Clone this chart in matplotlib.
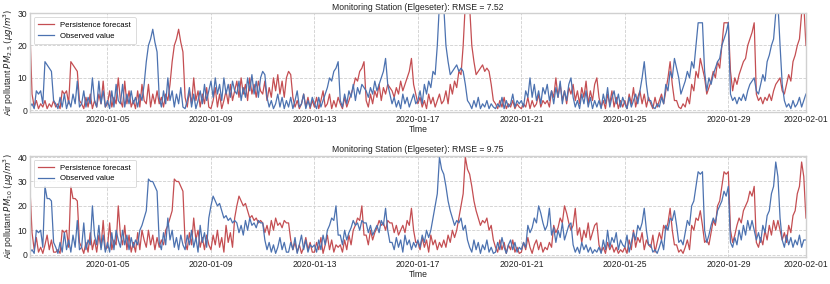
import numpy as np
import pandas as pd
import matplotlib
matplotlib.use("Agg")
import matplotlib.pyplot as plt
import matplotlib.dates as mdates

# Observed concentrations every 2 hours, 2020-01-01 00h .. 2020-02-01 00h
pm25_obs = [
    25, 5, 1, 3, 0.5, 2, 1, 3, 0.5, 2, 1, 3,          # 01-01
    1, 2, 0.5, 6, 5, 6, 2, 15, 14, 13, 12, 3,         # 01-02
    2, 0.5, 4, 1, 5, 0.5, 3, 1, 5, 2, 9, 1,          # 01-03
    2, 6, 1, 4, 2, 10, 3, 1, 9, 2, 6, 1,             # 01-04
    3, 0.5, 6, 1, 8, 3, 2, 8, 1, 5, 2, 6,            # 01-05
    2, 4, 1, 5, 3, 8, 15, 20, 22, 25, 21, 18,        # 01-06
    4, 1, 6, 2, 10, 3, 6, 1, 5, 2, 7, 1,             # 01-07
    0.5, 3, 7, 1, 5, 0.5, 3, 6, 2, 8, 3, 6,          # 01-08
    9, 4, 10, 5, 8, 3, 10, 5, 8, 4, 9, 6,            # 01-09
    5, 9, 3, 7, 4, 10, 6, 11, 5, 9, 4, 10,           # 01-10
    12, 11, 4, 1, 3, 0.5, 2, 5, 1, 4, 0.5, 3,        # 01-11
    1, 4, 0.5, 3, 6, 1, 2, 5, 0.5, 3, 1, 4,          # 01-12
    2, 0.5, 4, 1, 3, 5, 7, 10, 9, 12, 13, 15,        # 01-13
    3, 1, 5, 2, 6, 4, 8, 3, 7, 5, 8, 7,              # 01-14
    6, 4, 7, 5, 9, 6, 8, 10, 12, 16, 8, 5,           # 01-15
    2, 4, 1, 3, 0.5, 5, 2, 4, 1, 3, 5, 2,            # 01-16
    3, 6, 2, 8, 5, 9, 7, 12, 11, 20, 33, 34,         # 01-17
    32, 20, 15, 11, 12, 13, 14, 12, 13, 12, 8, 3,    # 01-18
    2, 0.5, 3, 1, 4, 0.5, 2, 1, 3, 0.5, 2, 1,        # 01-19
    0.5, 2, 1, 4, 0.5, 3, 1, 2, 5, 1, 3, 2,          # 01-20
    3, 1, 6, 4, 10, 4, 8, 3, 6, 2, 7, 5,             # 01-21
    8, 3, 6, 2, 7, 4, 9, 2, 6, 3, 8, 10,             # 01-22
    4, 1, 3, 0.5, 5, 2, 6, 1, 4, 0.5, 3, 1,          # 01-23
    3, 0.5, 5, 2, 7, 1, 4, 6, 2, 5, 1, 4,            # 01-24
    2, 0.5, 4, 1, 3, 5, 2, 6, 10, 15, 8, 3,          # 01-25
    3, 1, 0.5, 2, 1, 4, 2, 8, 6, 12, 10, 16,         # 01-26
    13, 10, 5, 7, 9, 12, 10, 15, 13, 20, 27, 27,     # 01-27
    27, 12, 6, 10, 8, 11, 13, 15, 16, 20, 22, 24,    # 01-28
    27, 5, 3, 4, 2, 4, 3, 5, 3, 6, 8, 9,             # 01-29
    10, 6, 5, 8, 11, 9, 15, 17, 20, 22, 30, 33,      # 01-30
    20, 8, 3, 1, 2, 0.5, 3, 1, 2, 4, 1, 3,           # 01-31
    5,                                               # 02-01 00h
]

pm10_obs = [
    28, 9, 2, 7, 1, 3, 0.5, 4, 8, 2, 6, 1,           # 01-01
    1, 2, 0.5, 10, 9, 10, 3, 28, 23, 23, 22, 5,      # 01-02
    3, 0.5, 5, 1, 9, 2, 6, 1, 8, 3, 14, 2,           # 01-03
    3, 13, 2, 6, 4, 20, 8, 4, 12, 2, 8, 1,           # 01-04
    5, 1, 9, 2, 10, 6, 3, 10, 4, 8, 2, 7,            # 01-05
    3, 6, 4, 10, 12, 15, 18, 31, 30, 30, 28, 26,     # 01-06
    5, 2, 9, 4, 15, 6, 10, 3, 7, 2, 8, 4,            # 01-07
    2, 8, 4, 10, 3, 7, 1, 12, 5, 9, 3, 15,           # 01-08
    20, 24, 22, 20, 21, 18, 15, 16, 14, 15, 13, 14,  # 01-09
    13, 9, 12, 8, 14, 10, 15, 12, 13, 11, 14, 13,    # 01-10
    13, 6, 2, 5, 1, 4, 0.5, 3, 7, 2, 5, 1,           # 01-11
    1, 5, 2, 7, 0.5, 4, 8, 2, 6, 1, 4, 3,            # 01-12
    4, 1, 6, 2, 8, 4, 10, 12, 15, 14, 20, 8,         # 01-13
    8, 4, 10, 6, 9, 11, 14, 12, 13, 10, 14, 13,      # 01-14
    13, 9, 12, 8, 10, 12, 9, 14, 12, 19, 10, 5,      # 01-15
    5, 2, 7, 3, 6, 1, 8, 4, 6, 2, 5, 3,              # 01-16
    6, 3, 8, 5, 10, 7, 10, 15, 20, 25, 40, 35,       # 01-17
    33, 28, 22, 18, 15, 12, 14, 13, 15, 10, 12, 6,   # 01-18
    3, 1, 6, 2, 5, 0.5, 4, 2, 6, 1, 3, 0.5,          # 01-19
    1, 5, 2, 7, 3, 0.5, 4, 6, 2, 5, 1, 3,            # 01-20
    2, 5, 3, 12, 9, 11, 15, 13, 20, 17, 13, 10,      # 01-21
    12, 19, 8, 11, 5, 10, 7, 13, 6, 9, 12, 13,       # 01-22
    4, 1, 3, 0.5, 5, 2, 4, 1, 3, 0.5, 2, 1,          # 01-23
    3, 0.5, 6, 2, 10, 3, 7, 5, 9, 2, 6, 4,           # 01-24
    3, 8, 1, 5, 9, 6, 12, 10, 13, 19, 10, 4,         # 01-25
    4, 1, 2, 0.5, 3, 6, 2, 12, 10, 15, 14, 18,       # 01-26
    12, 5, 6, 4, 9, 14, 12, 20, 22, 28, 34, 33,      # 01-27
    34, 10, 5, 8, 12, 15, 13, 18, 20, 22, 26, 24,    # 01-28
    28, 5, 3, 7, 4, 10, 6, 12, 8, 14, 10, 14,        # 01-29
    10, 6, 9, 5, 12, 9, 16, 18, 25, 28, 38, 32,      # 01-30
    15, 6, 3, 8, 4, 7, 3, 6, 4, 8, 3, 6,             # 01-31
    6,                                               # 02-01 00h
]

station = "Elgeseter"
rmse_values = [7.52, 9.75]
ylabels = [r"Air pollutant $PM_{2.5}$ $(\mu g/m^3)$",
           r"Air pollutant $PM_{10}$ $(\mu g/m^3)$"]
ylims = [(-0.5, 30), (-1, 40.5)]
yticks = [[0, 10, 20, 30], [0, 10, 20, 30, 40]]

times = pd.date_range("2020-01-01 00:00", periods=len(pm25_obs), freq="2h")
start, end = pd.Timestamp("2020-01-02"), pd.Timestamp("2020-02-01")

plt.rcParams["font.family"] = ["Liberation Sans", "DejaVu Sans"]
plt.rcParams["mathtext.fontset"] = "dejavusans"
FS = 6.25
LFS = 5.6

fig = plt.figure(figsize=(8.30, 2.84), dpi=100)
axes = [fig.add_axes([0.036, 0.606, 0.935, 0.348]),
        fig.add_axes([0.036, 0.095, 0.935, 0.356])]

red = "#C44E52"
blue = "#4C72B0"

for ax, obs, rmse, ylab, ylim, yt in zip(axes, [pm25_obs, pm10_obs], rmse_values,
                                         ylabels, ylims, yticks):
    s = pd.Series(obs, index=times)
    pers = s.shift(freq="24h")
    obs_w = s[(s.index >= start) & (s.index <= end)]
    pers_w = pers[(pers.index >= start) & (pers.index <= end)]
    ax.plot(pers_w.index, pers_w.values, color=red, lw=0.9, label="Persistence forecast")
    ax.plot(obs_w.index, obs_w.values, color=blue, lw=0.9, label="Observed value")
    ax.set_xlim(start, end)
    ax.set_ylim(*ylim)
    ax.set_yticks(yt)
    ax.xaxis.set_major_locator(mdates.DayLocator(bymonthday=[1, 5, 9, 13, 17, 21, 25, 29]))
    ax.xaxis.set_major_formatter(mdates.DateFormatter("%Y-%m-%d"))
    ax.grid(True, linestyle="--", color="#cfcfcf", lw=0.6)
    ax.set_axisbelow(True)
    for sp in ax.spines.values():
        sp.set_color("#d0d0d0")
        sp.set_linewidth(1.0)
    ax.tick_params(axis="both", length=0, labelsize=FS, pad=2, colors="#222222")
    ax.set_title(f"Monitoring Station ({station}): RMSE = {rmse}", fontsize=FS, pad=2.5,
                 color="#222222")
    ax.set_xlabel("Time", fontsize=FS, labelpad=1, color="#222222")
    ax.set_ylabel(ylab, fontsize=FS, labelpad=1, color="#222222")
    leg = ax.legend(loc="upper left", fontsize=LFS, frameon=True, handlelength=2.0,
                    borderpad=0.6, labelspacing=0.4)
    leg.get_frame().set_edgecolor("#cccccc")
    leg.get_frame().set_linewidth(0.6)

fig.savefig("out.png", dpi=100)
